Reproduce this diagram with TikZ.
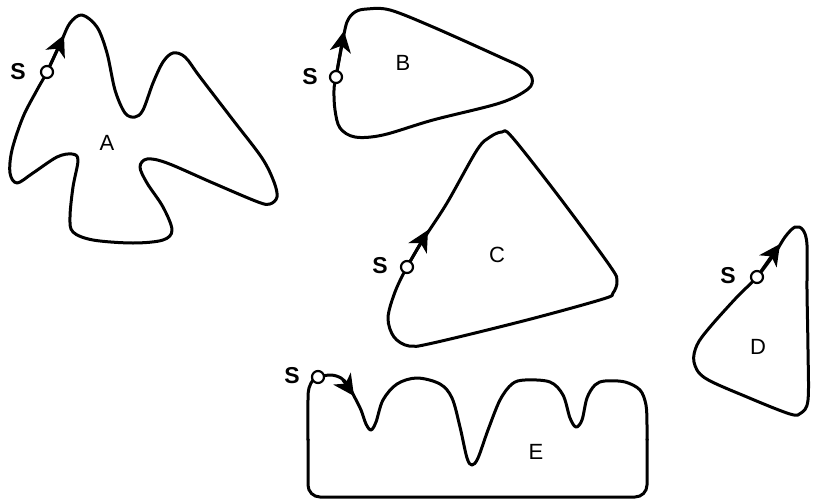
\documentclass[tikz,border=0pt]{standalone}
\usepackage{fontspec}
\setmainfont{Liberation Sans}
\usetikzlibrary{arrows.meta}
\begin{document}
\begin{tikzpicture}[x=1pt,y=-1pt,
  outline/.style={line width=3pt, line join=round, line cap=round},
  startpt/.style={circle, draw, fill=white, line width=2.2pt, inner sep=0pt, minimum size=12pt},
  slabel/.style={font=\fontsize{23}{23}\selectfont\bfseries, inner sep=0pt},
  regname/.style={font=\fontsize{22}{22}\selectfont, inner sep=0pt},
  dirarrow/.style={-{Stealth[length=21pt,width=21pt,inset=6pt]}, line width=3pt}
]
\useasboundingbox (0,0) rectangle (815,501);
\fill[white] (0,0) rectangle (815,501);

% ---------- A ----------
\draw[outline] plot[smooth cycle, tension=0.55] coordinates {
 (47,72) (61,42) (70,23) (82,15) (97,27) (107,53) (115,90) (125,113) (135,117)
 (143,110) (153,83) (163,62) (173,53) (185,57) (200,77) (233,120) (262,158)
 (274,182) (277,197) (270,204) (258,202) (213,183) (167,163) (147,159) (140,167) (147,183)
 (163,207) (172,230) (163,240) (133,243) (93,240) (73,232) (70,217) (73,187)
 (78,160) (72,154) (57,157) (33,173) (17,183) (10,173) (12,150) (23,117) (37,90)};
\node[startpt] (sA) at (47,72) {};
\coordinate (tA) at (64,35);
\draw[dirarrow] (sA) -- (tA);
\node[slabel] (lsA) at (18,72) {S};
\node[regname] (nA) at (107,143) {A};

% ---------- B ----------
\draw[outline] plot[smooth cycle, tension=0.55] coordinates {
 (336,77) (342,45) (347,22) (355,12) (367,9) (390,10) (433,27) (500,57) (523,68)
 (532,78) (528,89) (500,103) (433,120) (383,135) (355,137) (340,128) (335,110) (334,90)};
\node[startpt] (sB) at (336,77) {};
\coordinate (tB) at (344,31);
\draw[dirarrow] (sB) -- (tB);
\node[slabel] (lsB) at (310,77) {S};
\node[regname] (nB) at (403,63) {B};

% ---------- C ----------
\draw[outline] plot[smooth cycle, tension=0.55] coordinates {
 (407,267) (423,240) (447,203) (477,150) (490,137) (502,132) (512,137) (560,198)
 (610,266) (617,281) (613,293) (603,299) (527,320) (433,343) (409,346) (394,337) (388,318) (395,292)};
\node[startpt] (sC) at (407,267) {};
\coordinate (tC) at (428,230);
\draw[dirarrow] (sC) -- (tC);
\node[slabel] (lsC) at (380,266) {S};
\node[regname] (nC) at (497,255) {C};

% ---------- D ----------
\draw[outline] plot[smooth cycle, tension=0.55] coordinates {
 (757,277) (775,253) (785,237) (795,227) (803,230) (807,245) (807,290) (808,350)
 (808,400) (801,413) (790,414) (747,397) (705,378) (694,362) (697,345) (710,327) (737,297)};
\node[startpt] (sD) at (757,277) {};
\coordinate (tD) at (780,244);
\draw[dirarrow] (sD) -- (tD);
\node[slabel] (lsD) at (728,276) {S};
\node[regname] (nD) at (758,347) {D};

% ---------- E ----------
\draw[outline] plot[smooth, tension=0.55] coordinates {
 (308,440) (308,400) (309,388) (313,380) (318,377) (331,375) (341,378) (348,385) (354,396) (361,410) (366,424)
 (371,430) (376,422) (383,400) (397,384) (417,378) (440,384) (452,398) (460,427)
 (467,458) (472,465) (478,458) (488,430) (500,400) (512,384) (525,380) (550,382)
 (563,395) (570,418) (576,427) (582,420) (587,398) (595,385) (605,381) (625,382)
 (640,390) (646,405) (647,425) (647,440)};
\draw[outline, rounded corners=12pt] (308,439) -- (308,497) -- (647,497) -- (647,439);
\node[startpt] (sE) at (318,377) {};
\coordinate (bE) at (343,380);
\coordinate (tE) at (354,396);
\draw[dirarrow] (bE) -- (tE);
\node[slabel] (lsE) at (292,376) {S};
\node[regname] (nE) at (536,452) {E};
\end{tikzpicture}
\end{document}
